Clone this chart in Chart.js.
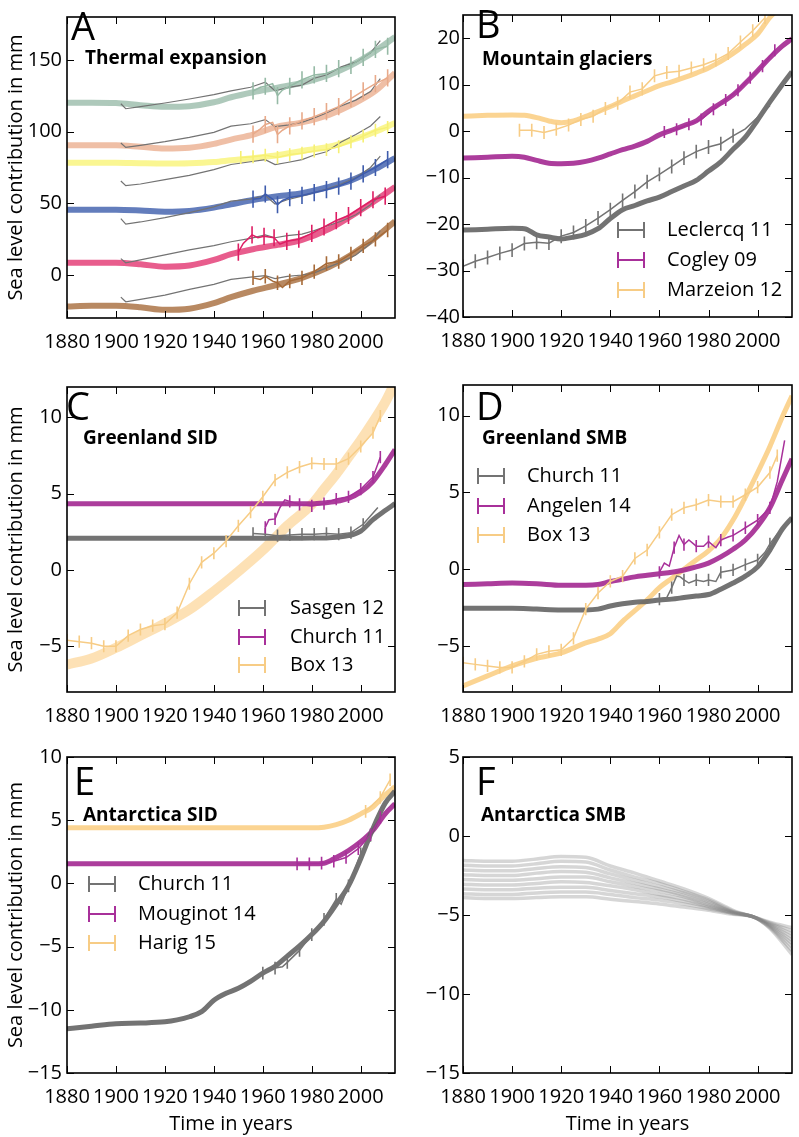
<!DOCTYPE html>
<html>
<head>
<meta charset="utf-8">
<script src="https://cdn.jsdelivr.net/npm/chart.js@4.4.1/dist/chart.umd.min.js"></script>
<style>
  body { margin: 0; background: #fff; }
  #fig { position: relative; width: 799px; height: 1137px; overflow: hidden; font-family: "Open Sans", sans-serif; color: #000; }
  #fig canvas { position: absolute; }
  .txt { position: absolute; line-height: 1; white-space: nowrap; }
  .mark { position: absolute; width: 28px; height: 16px; box-sizing: border-box; border-left: 2px solid; border-right: 2px solid; }
  .mark div { position: absolute; left: 0; right: 0; top: 7px; height: 2px; }
</style>
</head>
<body>
<div id="fig"></div>
<script>
// ---- axes ----
const xTicks = [1880, 1900, 1920, 1940, 1960, 1980, 2000];
const yTicksA = [0, 50, 100, 150];
const yTicksB = [-40, -30, -20, -10, 0, 10, 20];
const yTicksCD = [-5, 0, 5, 10];
const yTicksE = [-15, -10, -5, 0, 5, 10];
const yTicksF = [-15, -10, -5, 0, 5];

// ---- A: thermal expansion ----
const yearsAModel = [1880, 1890, 1900, 1910, 1920, 1930, 1940, 1947, 1956, 1966, 1976, 1987, 1996, 2006, 2014];
const thermGreen  = [120.2, 120.2, 120.0, 118.5, 117.3, 117.8, 120.5, 124.0, 127.5, 130.7, 134.0, 139.6, 146.3, 156.3, 166.0];
const thermPeach  = [90.5, 90.5, 90.5, 89.5, 88.3, 88.8, 91.5, 94.5, 98.0, 103.5, 106.5, 111.7, 118.5, 128.4, 141.0];
const thermYellow = [78.3, 78.3, 78.3, 78.0, 77.8, 78.0, 78.8, 80.0, 81.5, 83.5, 86.5, 89.5, 94.0, 100.0, 106.0];
const thermBlue   = [45.5, 45.5, 45.5, 45.0, 44.2, 44.7, 47.0, 49.3, 52.3, 54.9, 57.0, 61.5, 66.0, 74.0, 81.5];
const thermPink   = [8.5, 8.5, 8.5, 7.5, 5.8, 6.6, 10.5, 14.5, 18.0, 21.0, 24.5, 32.0, 41.0, 52.0, 61.5];
const thermBrown  = [-22.0, -21.5, -21.5, -22.5, -24.3, -23.5, -19.6, -15.5, -11.0, -6.8, -2.0, 5.5, 14.0, 26.0, 37.5];

const yearsAGray = [1902, 1904, 1910, 1920, 1930, 1940, 1947, 1955, 1961, 1965, 1970, 1976, 1981, 1986, 1992, 1998, 2004, 2008];
const grayGreen  = [119.5, 116.0, 117.5, 120.0, 122.8, 125.8, 128.4, 131.0, 134.5, 128.5, 130.7, 132.5, 137.3, 139.5, 145.2, 148.5, 155.0, 163.5];
const grayPeach  = [92.1, 89.0, 90.5, 93.0, 96.0, 99.5, 103.9, 105.5, 108.4, 103.5, 104.5, 106.5, 109.5, 113.0, 118.0, 122.0, 128.0, 137.0];
const grayYellow = [65.6, 62.3, 63.5, 66.5, 69.5, 73.5, 77.1, 79.0, 80.5, 77.0, 78.5, 80.5, 83.7, 86.0, 92.8, 98.0, 104.0, 110.6];
const grayBlue   = [39.4, 35.5, 37.0, 40.0, 43.5, 47.5, 51.5, 53.0, 55.5, 49.5, 52.5, 55.0, 57.5, 60.0, 63.5, 68.0, 75.0, 83.0];
const grayPink   = [11.4, 8.5, 10.5, 14.0, 17.5, 20.5, 23.2, 25.5, 28.0, 26.0, 27.5, 28.5, 31.0, 34.0, 37.5, 42.0, 49.0, 56.0];
const grayBrown  = [-15.4, -18.7, -17.0, -14.0, -10.0, -6.5, -3.1, -1.5, -0.5, -2.5, -1.0, 0.0, 1.5, 5.0, 9.0, 14.0, 22.0, 31.0];

const yearsAObs = [1956, 1959, 1961, 1964, 1966, 1968, 1971, 1976, 1981, 1986, 1991, 1996, 2001, 2006, 2011];
const obsGreen  = [128.4, 131.0, 131.7, 133.5, 125.1, 129.0, 131.7, 136.2, 139.6, 140.6, 144.0, 146.3, 151.8, 157.4, 159.6];
const obsPeach  = [98.3, 102.0, 105.0, 106.5, 98.0, 101.0, 104.0, 107.5, 110.5, 114.0, 117.5, 123.0, 128.5, 133.5, 137.5];
const obsBlue   = [52.9, 53.5, 56.5, 53.0, 49.0, 52.0, 54.0, 55.5, 57.5, 59.5, 62.0, 65.5, 70.5, 75.0, 80.5];
const obsBrown  = [-2.0, -3.1, -0.9, -4.3, -5.4, -8.7, -4.2, -2.0, 2.4, 8.0, 9.4, 14.7, 20.3, 24.8, 31.4];
const errAObs   = [6, 0, 6, 0, 6, 0, 6, 6, 6, 6, 6, 6, 6, 6, 6];
const errBrown  = [5, 0, 5, 0, 5, 0, 5, 5, 5, 5, 5, 5, 5, 5, 5];
const yearsYellowObs = [1951, 1956, 1961, 1966, 1971, 1976, 1981, 1986, 1991, 1996, 2001, 2006, 2011];
const obsYellow = [82.0, 82.5, 83.5, 82.0, 84.0, 85.0, 86.5, 87.5, 89.5, 93.0, 97.0, 101.0, 103.0];
const errYellow = [4.5, 4.5, 4.5, 4.5, 4.5, 4.5, 4.5, 4.5, 4.5, 4.5, 4.5, 4.5, 4.5];
const yearsPinkObs = [1950, 1952, 1955.6, 1958, 1960.5, 1964.6, 1967, 1969.8, 1974.7, 1980, 1985, 1990, 1995, 2000, 2005, 2010];
const obsPink   = [16, 22, 28, 26, 27, 26, 21.5, 23.5, 25, 29, 33.5, 38, 41.5, 47, 52.5, 55];
const errPink   = [6, 0, 6, 0, 6, 6, 0, 6, 6, 6, 6, 6, 6, 6, 6, 6];

// ---- B: mountain glaciers ----
const yearsB = [1880, 1890, 1900, 1905, 1910, 1915, 1920, 1925, 1930, 1935, 1940, 1945, 1950, 1955, 1960, 1965, 1970, 1975, 1980, 1985, 1990, 1995, 2000, 2005, 2010, 2014];
const marzeionModel = [3.2, 3.4, 3.5, 3.4, 2.9, 2.2, 1.8, 2.2, 3.2, 4.2, 5.3, 6.5, 7.6, 8.7, 9.8, 10.6, 11.5, 12.5, 13.6, 15.0, 16.7, 18.7, 20.9, 24.5, 27.0, 29.5];
const cogleyModel   = [-5.8, -5.6, -5.4, -5.6, -6.3, -6.9, -7.0, -6.9, -6.5, -5.8, -4.9, -4.0, -3.2, -2.2, -0.8, 0.2, 1.2, 2.2, 4.3, 6.0, 7.8, 10.3, 13.0, 15.8, 18.3, 19.9];
const leclercqModel = [-21.3, -21.1, -20.9, -21.0, -22.3, -22.8, -23.2, -22.8, -22.2, -21.0, -18.8, -16.9, -16.0, -15.0, -14.2, -13.0, -11.8, -10.6, -8.6, -6.6, -3.9, -1.3, 2.4, 6.3, 10.0, 12.8];
const yearsLeclercq = [1880, 1885, 1890, 1895, 1900, 1905, 1910, 1915, 1920, 1925, 1930, 1935, 1940, 1945, 1950, 1955, 1960, 1965, 1970, 1975, 1980, 1985, 1990, 1995, 2000, 2005];
const leclercqObs = [-29.1, -28.0, -27.2, -26.3, -25.6, -24.2, -23.9, -24.1, -22.6, -21.8, -20.4, -18.7, -16.9, -14.9, -13.0, -10.9, -9.3, -7.6, -5.8, -4.4, -3.4, -2.7, -1.0, 0.5, 3.0, 5.5];
const leclercqErr = [1.5, 1.5, 1.5, 1.5, 1.5, 1.5, 1.5, 1.5, 1.5, 1.5, 1.5, 1.5, 1.5, 1.5, 1.5, 1.5, 1.5, 1.5, 1.5, 1.5, 1.5, 1.5, 1.5, 0, 0, 0];
const yearsMarzeion = [1903, 1908, 1913, 1918, 1923, 1928, 1933, 1938, 1943, 1948, 1953, 1958, 1963, 1968, 1973, 1978, 1983, 1988, 1993, 1998, 2003];
const marzeionObs = [0.2, 0.2, -0.3, 0.4, 1.3, 2.5, 3.2, 4.9, 6.0, 8.4, 9.1, 11.9, 12.6, 12.9, 13.6, 14.3, 15.3, 16.7, 19.2, 21.6, 24.4];
const marzeionErr = [1.4, 1.4, 1.4, 1.4, 1.4, 1.4, 1.4, 1.4, 1.4, 1.4, 1.4, 1.4, 1.4, 1.4, 1.4, 1.4, 1.4, 1.4, 1.4, 1.4, 1.4];
const yearsCogley = [1962, 1967, 1972, 1977, 1982, 1987, 1992, 1997, 2002, 2007];
const cogleyObs = [-0.2, 0.4, 1.5, 2.5, 4.7, 6.7, 8.8, 11.5, 14.0, 17.4];
const cogleyErr = [1.3, 1.3, 1.3, 1.3, 1.3, 1.3, 1.3, 1.3, 1.3, 1.3];

// ---- C: Greenland SID ----
const yearsCModel = [1880, 1890, 1900, 1910, 1920, 1930, 1940, 1950, 1960, 1970, 1980, 1985, 1990, 1995, 2000, 2005, 2010, 2014];
const sasgenModel  = [2.08, 2.08, 2.08, 2.08, 2.08, 2.08, 2.08, 2.08, 2.08, 2.08, 2.1, 2.1, 2.15, 2.25, 2.55, 3.3, 3.9, 4.35];
const churchCModel = [4.35, 4.35, 4.35, 4.35, 4.35, 4.35, 4.35, 4.35, 4.35, 4.35, 4.35, 4.4, 4.5, 4.7, 5.1, 5.8, 6.9, 7.9];
const boxCModel    = [-6.2, -5.8, -5.1, -4.3, -3.5, -2.6, -1.4, -0.1, 1.3, 2.9, 4.3, 5.3, 6.3, 7.4, 8.5, 9.7, 11.0, 12.3];
const yearsSasgen = [1956, 1961, 1966, 1971, 1976, 1981, 1986, 1991, 1996, 2001, 2007];
const sasgenObs = [2.4, 2.35, 2.25, 2.3, 2.35, 2.35, 2.4, 2.35, 2.45, 3.0, 4.1];
const sasgenErr = [0.4, 0.4, 0.4, 0.4, 0.4, 0.4, 0.4, 0.4, 0.4, 0.4, 0];
const yearsChurchC = [1961, 1962.5, 1965, 1967, 1969, 1971, 1973, 1975, 1978, 1980, 1985, 1990, 1995, 2000, 2005, 2008];
const churchCObs = [2.8, 3.3, 3.35, 4.1, 4.6, 4.5, 4.4, 4.3, 4.25, 4.2, 4.35, 4.65, 4.8, 5.3, 6.1, 7.4];
const churchCErr = [0.4, 0, 0.4, 0, 0, 0.4, 0, 0.4, 0, 0.4, 0.4, 0.4, 0.4, 0.4, 0.4, 0.4];
const yearsBox = [1880, 1885, 1890, 1895, 1900, 1905, 1910, 1915, 1920, 1925, 1930, 1935, 1940, 1945, 1950, 1955, 1960, 1965, 1970, 1975, 1980, 1985, 1990, 1995, 2000, 2005, 2008];
const boxCObs = [-4.6, -4.7, -4.8, -5.0, -5.0, -4.3, -3.9, -3.65, -3.55, -2.8, -0.9, 0.5, 1.1, 1.9, 2.9, 3.8, 4.8, 5.9, 6.4, 6.75, 7.0, 6.95, 6.95, 7.3, 8.1, 9.0, 10.1];
const boxErr = [0.4, 0.4, 0.4, 0.4, 0.4, 0.4, 0.4, 0.4, 0.4, 0.4, 0.4, 0.4, 0.4, 0.4, 0.4, 0.4, 0.4, 0.4, 0.4, 0.4, 0.4, 0.4, 0.4, 0.4, 0.4, 0.4, 0.4];

// ---- D: Greenland SMB ----
const yearsDModel = [1880, 1890, 1900, 1910, 1920, 1930, 1935, 1940, 1945, 1950, 1955, 1960, 1965, 1970, 1975, 1980, 1985, 1990, 1995, 2000, 2005, 2010, 2014];
const angelenModel = [-1.0, -0.95, -0.9, -0.95, -1.05, -1.05, -1.0, -0.8, -0.65, -0.5, -0.4, -0.3, -0.2, -0.05, 0.15, 0.4, 0.8, 1.3, 1.9, 2.8, 4.0, 5.8, 7.2];
const churchDModel = [-2.55, -2.55, -2.55, -2.6, -2.65, -2.65, -2.6, -2.4, -2.25, -2.15, -2.1, -2.0, -1.95, -1.85, -1.75, -1.65, -1.3, -0.9, -0.45, 0.15, 1.25, 2.6, 3.35];
const boxDModel    = [-7.6, -6.95, -6.3, -5.8, -5.45, -4.8, -4.55, -4.2, -3.4, -2.7, -2.0, -1.2, -0.6, 0.0, 0.6, 1.2, 2.0, 3.2, 4.7, 6.3, 8.0, 9.9, 11.3];
const yearsChurchD = [1960, 1963, 1965, 1967, 1968.5, 1970, 1972, 1975, 1978, 1980, 1983, 1985, 1990, 1995, 2000, 2003, 2005, 2008];
const churchDObs = [-1.95, -1.85, -1.2, -0.45, -0.5, -0.7, -0.9, -0.7, -0.8, -0.7, -0.8, -0.2, -0.05, 0.3, 0.6, 1.1, 1.65, 2.3];
const churchDErr = [0.4, 0, 0.4, 0, 0, 0.4, 0, 0.4, 0, 0.4, 0, 0.4, 0.4, 0.4, 0.4, 0, 0.4, 0];
const yearsAngelen = [1960, 1962, 1964, 1966, 1968, 1970, 1972, 1975, 1978, 1980, 1983, 1985, 1988, 1990, 1993, 1995, 2000, 2005, 2008, 2011];
const angelenObs = [-0.2, 0.4, 0.2, 1.4, 2.2, 1.6, 1.9, 1.5, 1.5, 1.8, 1.4, 1.9, 2.1, 2.2, 2.5, 2.7, 3.2, 4.0, 5.7, 8.4];
const angelenErr = [0.4, 0, 0, 0.4, 0, 0.4, 0, 0.4, 0, 0.4, 0, 0.4, 0, 0.4, 0, 0.4, 0.4, 0.4, 0, 0];
const boxDObs = [-6.1, -6.2, -6.3, -6.4, -6.4, -6.0, -5.55, -5.35, -5.25, -4.5, -2.6, -1.55, -0.8, -0.45, 0.7, 1.25, 2.4, 3.55, 4.0, 4.2, 4.5, 4.4, 4.4, 4.85, 5.35, 6.3, 7.4];

// ---- E: Antarctica SID ----
const yearsEModel = [1880, 1890, 1900, 1910, 1920, 1925, 1930, 1935, 1940, 1945, 1950, 1955, 1960, 1965, 1970, 1975, 1980, 1985, 1990, 1995, 2000, 2005, 2010, 2014];
const churchEModel   = [-11.5, -11.3, -11.1, -11.05, -10.95, -10.8, -10.55, -10.15, -9.25, -8.7, -8.3, -7.75, -7.1, -6.55, -5.75, -4.95, -4.05, -3.0, -1.65, -0.2, 1.95, 4.35, 6.35, 7.3];
const mouginotModel  = [1.55, 1.55, 1.55, 1.55, 1.55, 1.55, 1.55, 1.55, 1.55, 1.55, 1.55, 1.55, 1.55, 1.55, 1.55, 1.55, 1.55, 1.6, 2.05, 2.6, 3.3, 4.2, 5.5, 6.3];
const harigModel     = [4.4, 4.4, 4.4, 4.4, 4.4, 4.4, 4.4, 4.4, 4.4, 4.4, 4.4, 4.4, 4.4, 4.4, 4.4, 4.4, 4.4, 4.45, 4.65, 5.0, 5.5, 6.05, 7.0, 7.65];
const yearsChurchE = [1960, 1965, 1968, 1970, 1975, 1980, 1985, 1990, 1992, 1995, 2000, 2004];
const churchEObs = [-7.1, -6.7, -6.6, -6.25, -5.3, -4.05, -2.85, -1.25, -1.65, -0.2, 2.35, 3.8];
const churchEErr = [0.5, 0.5, 0, 0.5, 0.5, 0.5, 0.5, 0.5, 0, 0.5, 0.5, 0.5];
const yearsMouginot = [1974, 1979, 1984, 1989, 1994, 1999, 2004, 2008];
const mouginotObs = [1.55, 1.55, 1.6, 1.75, 2.05, 2.75, 3.85, 5.2];
const mouginotErr = [0.5, 0.5, 0.5, 0.5, 0.5, 0.5, 0.5, 0.5];
const yearsHarig = [2002, 2008, 2012];
const harigObs = [5.7, 6.8, 8.2];
const harigErr = [0.5, 0.5, 0.5];

// ---- F: Antarctica SMB (ensemble members) ----
const yearsF = [1880, 1890, 1900, 1910, 1920, 1930, 1940, 1950, 1960, 1970, 1980, 1990, 1998, 2005, 2014];
const smb1 = [-1.55, -1.6, -1.6, -1.45, -1.3, -1.35, -1.9, -2.35, -2.85, -3.35, -3.95, -4.7, -5.1, -5.45, -5.8];
const smb2 = [-1.85, -1.9, -1.9, -1.75, -1.6, -1.65, -2.15, -2.6, -3.0, -3.5, -4.05, -4.75, -5.1, -5.5, -6.0];
const smb3 = [-2.15, -2.2, -2.2, -2.05, -1.95, -2.0, -2.4, -2.8, -3.2, -3.6, -4.15, -4.8, -5.1, -5.55, -6.2];
const smb4 = [-2.45, -2.5, -2.5, -2.35, -2.25, -2.3, -2.65, -3.0, -3.35, -3.75, -4.25, -4.8, -5.1, -5.6, -6.4];
const smb5 = [-2.75, -2.8, -2.8, -2.7, -2.6, -2.6, -2.9, -3.2, -3.5, -3.85, -4.35, -4.85, -5.1, -5.65, -6.6];
const smb6 = [-3.05, -3.1, -3.1, -3.0, -2.9, -2.95, -3.15, -3.4, -3.7, -4.0, -4.45, -4.85, -5.1, -5.7, -6.8];
const smb7 = [-3.35, -3.4, -3.4, -3.3, -3.25, -3.25, -3.45, -3.65, -3.85, -4.15, -4.5, -4.9, -5.1, -5.75, -7.0];
const smb8 = [-3.65, -3.7, -3.7, -3.6, -3.55, -3.55, -3.7, -3.9, -4.05, -4.3, -4.6, -4.9, -5.1, -5.8, -7.25];
const smb9 = [-3.9, -3.95, -3.95, -3.9, -3.85, -3.85, -4.0, -4.15, -4.3, -4.5, -4.7, -4.95, -5.1, -5.85, -7.5];

// colours
const GRAY = 'rgba(100,100,100,0.9)', GRAY_THIN = '#737373';
const MAG = 'rgba(163,40,145,0.9)', MAG_THIN = '#a8309a';
const ORG = 'rgba(251,210,140,0.95)', ORG_THIN = '#f7cc85';

Chart.defaults.font.family = '"Open Sans", sans-serif';
Chart.defaults.font.size = 20;
Chart.defaults.color = '#000';

function pts(xs, ys) { return xs.map((x, i) => ({ x: x, y: ys[i] })); }
function model(xs, ys, color, width) {
  return { data: pts(xs, ys), borderColor: color, borderWidth: width || 5, pointRadius: 0,
           cubicInterpolationMode: 'monotone', clip: 0, order: 3 };
}
function thin(xs, ys, color) {
  return { data: pts(xs, ys), borderColor: color, borderWidth: 1.2, pointRadius: 0, clip: 0, order: 2 };
}
function obs(xs, ys, errs, color) {
  return { data: pts(xs, ys), errs: errs, borderColor: color, borderWidth: 1.5, pointRadius: 0, clip: 0, order: 1 };
}

// error bars + matplotlib-like frame with inward ticks on all sides
const framePlugin = {
  id: 'frame',
  afterDatasetsDraw(chart) {
    const { ctx, chartArea: a, scales: { x, y } } = chart;
    ctx.save();
    ctx.beginPath();
    ctx.rect(a.left, a.top, a.right - a.left, a.bottom - a.top);
    ctx.clip();
    chart.data.datasets.forEach(ds => {
      if (!ds.errs) return;
      ctx.strokeStyle = ds.borderColor;
      ctx.lineWidth = 1.6;
      ctx.beginPath();
      ds.data.forEach((p, i) => {
        const e = ds.errs[i];
        if (!e) return;
        const px = x.getPixelForValue(p.x);
        ctx.moveTo(px, y.getPixelForValue(p.y - e));
        ctx.lineTo(px, y.getPixelForValue(p.y + e));
      });
      ctx.stroke();
    });
    ctx.restore();

    ctx.save();
    ctx.strokeStyle = '#000';
    ctx.lineWidth = 1;
    ctx.beginPath();
    x.ticks.forEach(t => {
      const px = Math.round(x.getPixelForValue(t.value)) + 0.5;
      ctx.moveTo(px, a.bottom); ctx.lineTo(px, a.bottom - 7);
      ctx.moveTo(px, a.top); ctx.lineTo(px, a.top + 7);
    });
    y.ticks.forEach(t => {
      const py = Math.round(y.getPixelForValue(t.value)) + 0.5;
      ctx.moveTo(a.left, py); ctx.lineTo(a.left + 7, py);
      ctx.moveTo(a.right, py); ctx.lineTo(a.right - 7, py);
    });
    ctx.stroke();
    ctx.lineWidth = 1.6;
    ctx.strokeRect(a.left, a.top, a.right - a.left, a.bottom - a.top);
    ctx.restore();
  }
};

const fig = document.getElementById('fig');
const fmt = v => (v < 0 ? '\u2212' + Math.abs(v) : String(v));

function addPanel(p) {
  const cv = document.createElement('canvas');
  cv.width = p.w; cv.height = p.h;
  cv.style.left = p.left + 'px';
  cv.style.top = p.top + 'px';
  fig.appendChild(cv);
  new Chart(cv, {
    type: 'line',
    data: { datasets: p.datasets },
    options: {
      responsive: false, animation: false, devicePixelRatio: 1, events: [],
      layout: { padding: { top: p.padTop, right: p.padRight, left: 0, bottom: 0 } },
      plugins: { legend: { display: false }, tooltip: { enabled: false } },
      scales: {
        x: {
          type: 'linear', min: 1880, max: 2014,
          grid: { display: false, drawTicks: false }, border: { display: false },
          afterBuildTicks: s => { s.ticks = xTicks.map(v => ({ value: v })); },
          afterFit: s => { s.height = p.xH; },
          ticks: { padding: 12, maxRotation: 0, autoSkip: false, callback: v => String(v) },
          title: { display: !!p.xTitle, text: 'Time in years', padding: { top: 0, bottom: 1 } }
        },
        y: {
          type: 'linear', min: p.ymin, max: p.ymax,
          grid: { display: false, drawTicks: false }, border: { display: false },
          afterBuildTicks: s => { s.ticks = p.yTicks.map(v => ({ value: v })); },
          afterFit: s => { s.width = p.yW; },
          ticks: { padding: p.yPad, autoSkip: false, callback: fmt },
          title: { display: !!p.yTitle, text: 'Sea level contribution in mm', padding: { top: 4, bottom: 0 } }
        }
      }
    },
    plugins: [framePlugin]
  });
}

const aCols = [
  ['rgba(160,192,175,0.85)', 'rgb(150,186,166)', thermGreen, grayGreen, yearsAObs, obsGreen, errAObs],
  ['rgba(236,180,150,0.85)', 'rgb(232,170,138)', thermPeach, grayPeach, yearsAObs, obsPeach, errAObs],
  ['rgba(250,246,140,0.95)', 'rgb(246,240,115)', thermYellow, grayYellow, yearsYellowObs, obsYellow, errYellow],
  ['rgba(72,102,176,0.85)', 'rgb(62,92,172)', thermBlue, grayBlue, yearsAObs, obsBlue, errAObs],
  ['rgba(226,52,112,0.8)', 'rgb(222,30,100)', thermPink, grayPink, yearsPinkObs, obsPink, errPink],
  ['rgba(172,116,70,0.85)', 'rgb(166,106,56)', thermBrown, grayBrown, yearsAObs, obsBrown, errBrown]
];
const dsA = [];
aCols.forEach(c => {
  dsA.push(model(yearsAModel, c[2], c[0], 6));
  dsA.push(thin(yearsAGray, c[3], GRAY_THIN));
  dsA.push(obs(c[4], c[5], c[6], c[1]));
});

const fColor = 'rgba(130,130,130,0.33)';
const dsF = [smb1, smb2, smb3, smb4, smb5, smb6, smb7, smb8, smb9].map(s => model(yearsF, s, fColor, 3.5));

const panels = [
  { left: 0, top: 0, w: 400, h: 370, yW: 67, yPad: 5, padTop: 3, padRight: 5, xH: 52, ymin: -30, ymax: 180, yTicks: yTicksA, yTitle: true, datasets: dsA },
  { left: 400, top: 0, w: 399, h: 370, yW: 63, yPad: 3, padTop: 2, padRight: 7, xH: 53, ymin: -40, ymax: 25, yTicks: yTicksB, datasets: [
      model(yearsB, leclercqModel, GRAY), model(yearsB, cogleyModel, MAG), model(yearsB, marzeionModel, ORG),
      obs(yearsLeclercq, leclercqObs, leclercqErr, GRAY_THIN), obs(yearsCogley, cogleyObs, cogleyErr, MAG_THIN),
      obs(yearsMarzeion, marzeionObs, marzeionErr, ORG_THIN)] },
  { left: 0, top: 370, w: 400, h: 370, yW: 67, yPad: 5, padTop: 10, padRight: 5, xH: 48, ymin: -8, ymax: 12, yTicks: yTicksCD, yTitle: true, datasets: [
      model(yearsCModel, sasgenModel, GRAY), model(yearsCModel, churchCModel, MAG), model(yearsCModel, boxCModel, 'rgba(251,200,120,0.55)', 10),
      obs(yearsSasgen, sasgenObs, sasgenErr, GRAY_THIN), obs(yearsChurchC, churchCObs, churchCErr, MAG_THIN),
      obs(yearsBox, boxCObs, boxErr, ORG_THIN)] },
  { left: 400, top: 370, w: 399, h: 370, yW: 63, yPad: 3, padTop: 10, padRight: 7, xH: 48, ymin: -8, ymax: 12, yTicks: yTicksCD, datasets: [
      model(yearsDModel, churchDModel, GRAY), model(yearsDModel, angelenModel, MAG), model(yearsDModel, boxDModel, ORG),
      obs(yearsChurchD, churchDObs, churchDErr, GRAY_THIN), obs(yearsAngelen, angelenObs, angelenErr, MAG_THIN),
      obs(yearsBox, boxDObs, boxErr, ORG_THIN)] },
  { left: 0, top: 740, w: 400, h: 397, yW: 67, yPad: 5, padTop: 17, padRight: 5, xH: 64, ymin: -15, ymax: 10, yTicks: yTicksE, yTitle: true, xTitle: true, datasets: [
      model(yearsEModel, churchEModel, GRAY), model(yearsEModel, mouginotModel, MAG), model(yearsEModel, harigModel, ORG),
      obs(yearsChurchE, churchEObs, churchEErr, GRAY_THIN), obs(yearsMouginot, mouginotObs, mouginotErr, MAG_THIN),
      obs(yearsHarig, harigObs, harigErr, ORG_THIN)] },
  { left: 400, top: 740, w: 399, h: 397, yW: 63, yPad: 3, padTop: 17, padRight: 7, xH: 64, ymin: -15, ymax: 5, yTicks: yTicksF, xTitle: true, datasets: dsF }
];
panels.forEach(addPanel);

// ---- text overlays ----
function text(str, x, base, size, weight) {
  const d = document.createElement('div');
  d.className = 'txt';
  d.textContent = str;
  d.style.left = x + 'px';
  d.style.top = (base - 0.888 * size) + 'px';
  d.style.fontSize = size + 'px';
  if (weight) d.style.fontWeight = weight;
  fig.appendChild(d);
}
[['A', 71, 40], ['B', 476, 38], ['C', 66, 420], ['D', 476, 420], ['E', 74, 795], ['F', 476, 795]]
  .forEach(l => text(l[0], l[1], l[2], 38));
[['Thermal expansion', 85, 65], ['Mountain glaciers', 482, 66], ['Greenland SID', 83, 445],
 ['Greenland SMB', 482, 445], ['Antarctica SID', 83, 822], ['Antarctica SMB', 481, 822]]
  .forEach(l => text(l[0], l[1], l[2], 19, 700));

function legend(entries, mx, tx, y0, dy) {
  entries.forEach((e, i) => {
    const y = y0 + i * dy;
    const m = document.createElement('div');
    m.className = 'mark';
    m.style.left = mx + 'px';
    m.style.top = (y - 8) + 'px';
    m.style.borderColor = e[1];
    const bar = document.createElement('div');
    bar.style.background = e[1];
    m.appendChild(bar);
    fig.appendChild(m);
    text(e[0], tx, y + 7, 20);
  });
}
legend([['Leclercq 11', GRAY_THIN], ['Cogley 09', MAG_THIN], ['Marzeion 12', ORG_THIN]], 617, 667, 230, 30);
legend([['Sasgen 12', GRAY_THIN], ['Church 11', MAG_THIN], ['Box 13', ORG_THIN]], 238, 290, 608, 28.5);
legend([['Church 11', GRAY_THIN], ['Angelen 14', MAG_THIN], ['Box 13', ORG_THIN]], 477, 527, 476, 29.5);
legend([['Church 11', GRAY_THIN], ['Mouginot 14', MAG_THIN], ['Harig 15', ORG_THIN]], 88, 138, 884, 29.5);
</script>
</body>
</html>
